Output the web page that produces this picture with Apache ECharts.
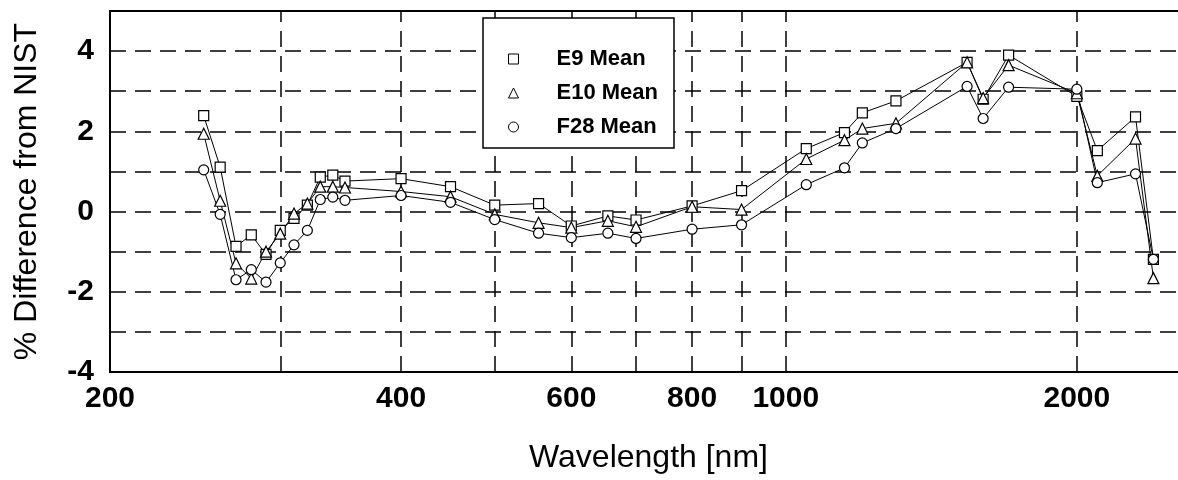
<!DOCTYPE html>
<html>
<head>
<meta charset="utf-8">
<script src="https://cdn.jsdelivr.net/npm/echarts@6/dist/echarts.min.js"></script>
<style>
  html, body { margin: 0; padding: 0; background: #fff; }
  #chart { width: 1178px; height: 480px; }
</style>
</head>
<body>
<div id="chart"></div>
<script>
// Calibration wavelengths (nm)
const wavelengths = [250, 260, 270, 280, 290, 300, 310, 320, 330, 340, 350, 400, 450, 500, 555, 600, 654.6, 700, 800, 900, 1050, 1150, 1200, 1300, 1540, 1600, 1700, 2000, 2100, 2300, 2400];

// Mean % difference from NIST for each lamp
const e9Mean  = [2.39, 1.11, -0.87, -0.58, -1.07, -0.47, -0.17, 0.16, 0.86, 0.91, 0.76, 0.82, 0.62, 0.16, 0.20, -0.36, -0.11, -0.21, 0.14, 0.52, 1.57, 1.97, 2.46, 2.76, 3.72, 2.80, 3.90, 2.87, 1.52, 2.36, -1.19];
const e10Mean = [1.94, 0.27, -1.29, -1.67, -1.00, -0.55, -0.05, 0.20, 0.62, 0.62, 0.60, 0.50, 0.37, -0.07, -0.28, -0.40, -0.23, -0.38, 0.12, 0.05, 1.31, 1.78, 2.07, 2.20, 3.72, 2.83, 3.65, 2.95, 0.89, 1.82, -1.66];
const f28Mean = [1.04, -0.07, -1.70, -1.45, -1.76, -1.28, -0.83, -0.47, 0.30, 0.36, 0.28, 0.40, 0.23, -0.20, -0.54, -0.65, -0.54, -0.67, -0.44, -0.33, 0.67, 1.09, 1.71, 2.07, 3.12, 2.32, 3.10, 3.05, 0.72, 0.94, -1.19];

const seriesNames = ['E9 Mean', 'E10 Mean', 'F28 Mean'];

// Wavelength axis: labelled values and dashed grid positions
const xTickLabels = [200, 400, 600, 800, 1000, 2000];
const xGridValues = [300, 400, 500, 600, 700, 800, 900, 1000, 2000];
const xRange = [200, 2600];

// Percent axis
const yRange = [-4, 5];
const yStep = 1;

const FONT = "'Liberation Sans', Arial, Helvetica, sans-serif";
const dash = [16, 9];

const pairs = vals => wavelengths.map((w, i) => [w, vals[i]]);

const baseSeries = (name, vals, symbol, size) => ({
  name: name,
  type: 'line',
  data: pairs(vals),
  symbol: symbol,
  symbolSize: size,
  z: 3,
  lineStyle: { color: '#000', width: 1 },
  itemStyle: { color: '#fff', borderColor: '#000', borderWidth: 1.2 },
  emphasis: { disabled: true },
  animation: false
});

const s9 = baseSeries(seriesNames[0], e9Mean, 'rect', 10);
const s10 = baseSeries(seriesNames[1], e10Mean, 'triangle', 11);
const s28 = baseSeries(seriesNames[2], f28Mean, 'circle', 10);

// dashed vertical grid lines
s9.markLine = {
  silent: true,
  z: 1,
  animation: false,
  symbol: ['none', 'none'],
  lineStyle: { color: '#000', type: dash, width: 1.5 },
  label: { show: false },
  emphasis: { disabled: true },
  data: xGridValues.map(v => ({ xAxis: v }))
};

// wavelength tick labels under the axis
s10.markLine = {
  silent: true,
  z: 1,
  animation: false,
  symbol: ['none', 'none'],
  lineStyle: { color: 'rgba(0,0,0,0)', width: 1 },
  label: {
    show: true,
    position: 'start',
    distance: 12,
    formatter: p => String(p.value),
    fontFamily: FONT,
    fontSize: 30,
    fontWeight: 'bold',
    color: '#000'
  },
  emphasis: { disabled: true },
  data: xTickLabels.map(v => ({ xAxis: v }))
};

const chart = echarts.init(document.getElementById('chart'), null, { renderer: 'canvas' });

chart.setOption({
  backgroundColor: '#fff',
  animation: false,
  grid: {
    left: 110, right: -9, top: 11, bottom: 108,
    containLabel: false,
    outerBoundsMode: 'none',
    show: true, borderColor: '#000', borderWidth: 2, backgroundColor: 'transparent'
  },
  legend: {
    orient: 'vertical',
    left: 483,
    top: 18,
    padding: [28, 16, 8, 25],
    itemGap: 8,
    itemWidth: 10,
    itemHeight: 10,
    backgroundColor: '#fff',
    borderColor: '#000',
    borderWidth: 1.5,
    selectedMode: false,
    itemStyle: { color: '#fff', borderColor: '#000', borderWidth: 1 },
    textStyle: {
      fontFamily: FONT, fontSize: 22, fontWeight: 'bold', color: '#000',
      lineHeight: 26, padding: [0, 0, 0, 33]
    },
    data: [
      { name: seriesNames[0], icon: 'rect' },
      { name: seriesNames[1], icon: 'triangle' },
      { name: seriesNames[2], icon: 'circle' }
    ]
  },
  xAxis: {
    type: 'log',
    logBase: 10,
    min: xRange[0],
    max: xRange[1],
    axisLine: { show: true, onZero: false, lineStyle: { color: '#000', width: 2 } },
    axisTick: { show: false },
    axisLabel: { show: false },
    splitLine: { show: false },
    minorSplitLine: { show: false },
    name: 'Wavelength [nm]',
    nameLocation: 'middle',
    nameGap: 70,
    nameMoveOverlap: false,
    nameTextStyle: { fontFamily: FONT, fontSize: 32, color: '#000' }
  },
  yAxis: {
    type: 'value',
    min: yRange[0],
    max: yRange[1],
    interval: yStep,
    axisLine: { show: true, lineStyle: { color: '#000', width: 2 } },
    axisTick: { show: false },
    axisLabel: {
      margin: 16,
      fontFamily: FONT, fontSize: 30, fontWeight: 'bold', color: '#000',
      formatter: v => (v % 2 === 0 ? String(v) : '')
    },
    splitLine: { show: true, lineStyle: { color: '#000', type: dash, width: 1.5 } },
    name: '% Difference from NIST',
    nameLocation: 'middle',
    nameGap: 67,
    nameMoveOverlap: false,
    nameTextStyle: { fontFamily: FONT, fontSize: 32, color: '#000' }
  },
  series: [s9, s10, s28]
});
</script>
</body>
</html>
